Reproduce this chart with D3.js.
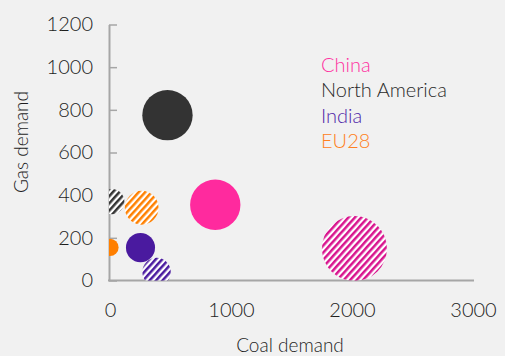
<!DOCTYPE html>
<html><head><meta charset="utf-8">
<script src="https://cdn.jsdelivr.net/npm/d3@7/dist/d3.min.js"></script>
<style>
html,body{margin:0;padding:0;background:#f1f1f1;}
svg{display:block;}
text{font-family:Lato,"Open Sans",sans-serif;font-weight:300;}
</style></head>
<body>
<svg id="chart" width="505" height="356"></svg>
<script>
// ---- data ----
const regions = ["China", "North America", "India", "EU28"];
const solidCoal = [870, 475, 252, 0];
const solidGas = [355, 775, 154, 155];
const solidSize = [60, 60, 20, 7];
const hatchCoal = [2020, 15, 385, 262];
const hatchGas = [150, 370, 40, 341];
const hatchSize = [100, 15, 19, 27];
const xTicks = [0, 1000, 2000, 3000];
const yTicks = [0, 200, 400, 600, 800, 1000, 1200];
const solidColors = ["#ff2a9e", "#333333", "#4a1a9f", "#ff7f00"];
const hatchColors = ["#d8148e", "#333333", "#4a1a9f", "#ff8000"];
const legendColors = ["#ff2f9f", "#2a2a2a", "#4f1fa8", "#ff8020"];

const svg = d3.select("#chart");
const x = d3.scaleLinear().domain([0, 3000]).range([110, 473]);
const y = d3.scaleLinear().domain([0, 1200]).range([280.5, 24.5]);
const r = d3.scaleSqrt().domain([0, 100]).range([0, 32.5]);

const defs = svg.append("defs");
regions.forEach((g, i) => {
  const p = defs.append("pattern").attr("id", "hatch" + i)
    .attr("patternUnits", "userSpaceOnUse").attr("width", 4.8).attr("height", 10)
    .attr("patternTransform", "rotate(42)");
  p.append("rect").attr("width", 4.8).attr("height", 10).attr("fill", "#ffffff");
  p.append("rect").attr("width", 2.5).attr("height", 10).attr("fill", hatchColors[i]);
});
defs.append("clipPath").attr("id", "plotclip").append("rect")
  .attr("x", x(0) - 1).attr("y", 0).attr("width", 400).attr("height", y(0) - 0);

const fmt = d3.format("d");
const textColor = "#1e1e1e";
// axes
const yAxis = d3.axisLeft(y).tickValues(yTicks).tickFormat(fmt).tickSize(-8).tickPadding(18).tickSizeOuter(0);
const gy = svg.append("g").attr("transform", `translate(${x(0) - 1},0)`).call(yAxis);
gy.select(".domain").attr("stroke", "#a6a6a6").attr("stroke-width", 2);
gy.selectAll(".tick line").attr("stroke", "#a6a6a6").attr("stroke-width", 1.5);
gy.selectAll(".tick text").attr("font-size", 20).attr("fill", textColor).attr("dx", 2)
  .style("font-family", "Lato, sans-serif").style("font-weight", 300);

const xAxis = d3.axisBottom(x).tickValues(xTicks).tickFormat(fmt).tickSize(0).tickPadding(22).tickSizeOuter(0);
const gx = svg.append("g").attr("transform", `translate(0,${y(0)})`).call(xAxis);
gx.select(".domain").attr("stroke", "#a6a6a6").attr("stroke-width", 2)
  .attr("d", `M${x(0) - 2},0H${x(3000) + 1}`);
gx.selectAll(".tick text").attr("font-size", 20).attr("fill", textColor)
  .style("font-family", "Lato, sans-serif").style("font-weight", 300);

// bubbles
const plot = svg.append("g").attr("clip-path", "url(#plotclip)");
regions.forEach((g, i) => {
  plot.append("circle").attr("cx", x(solidCoal[i])).attr("cy", y(solidGas[i]))
    .attr("r", r(solidSize[i])).attr("fill", solidColors[i]);
  plot.append("circle").attr("cx", x(hatchCoal[i])).attr("cy", y(hatchGas[i]))
    .attr("r", r(hatchSize[i])).attr("fill", `url(#hatch${i})`);
});

// axis titles
svg.append("text").attr("x", 290).attr("y", 352).attr("text-anchor", "middle")
  .attr("font-size", 19).attr("fill", textColor).text("Coal demand");
svg.append("text").attr("transform", "translate(28,142) rotate(-90)").attr("text-anchor", "middle")
  .attr("font-size", 19).attr("fill", textColor).text("Gas demand");

// legend
regions.forEach((g, i) => {
  svg.append("text").attr("x", 321).attr("y", 72 + i * 25.3)
    .attr("font-size", 20).attr("fill", legendColors[i]).text(g);
});
</script>
</body></html>
